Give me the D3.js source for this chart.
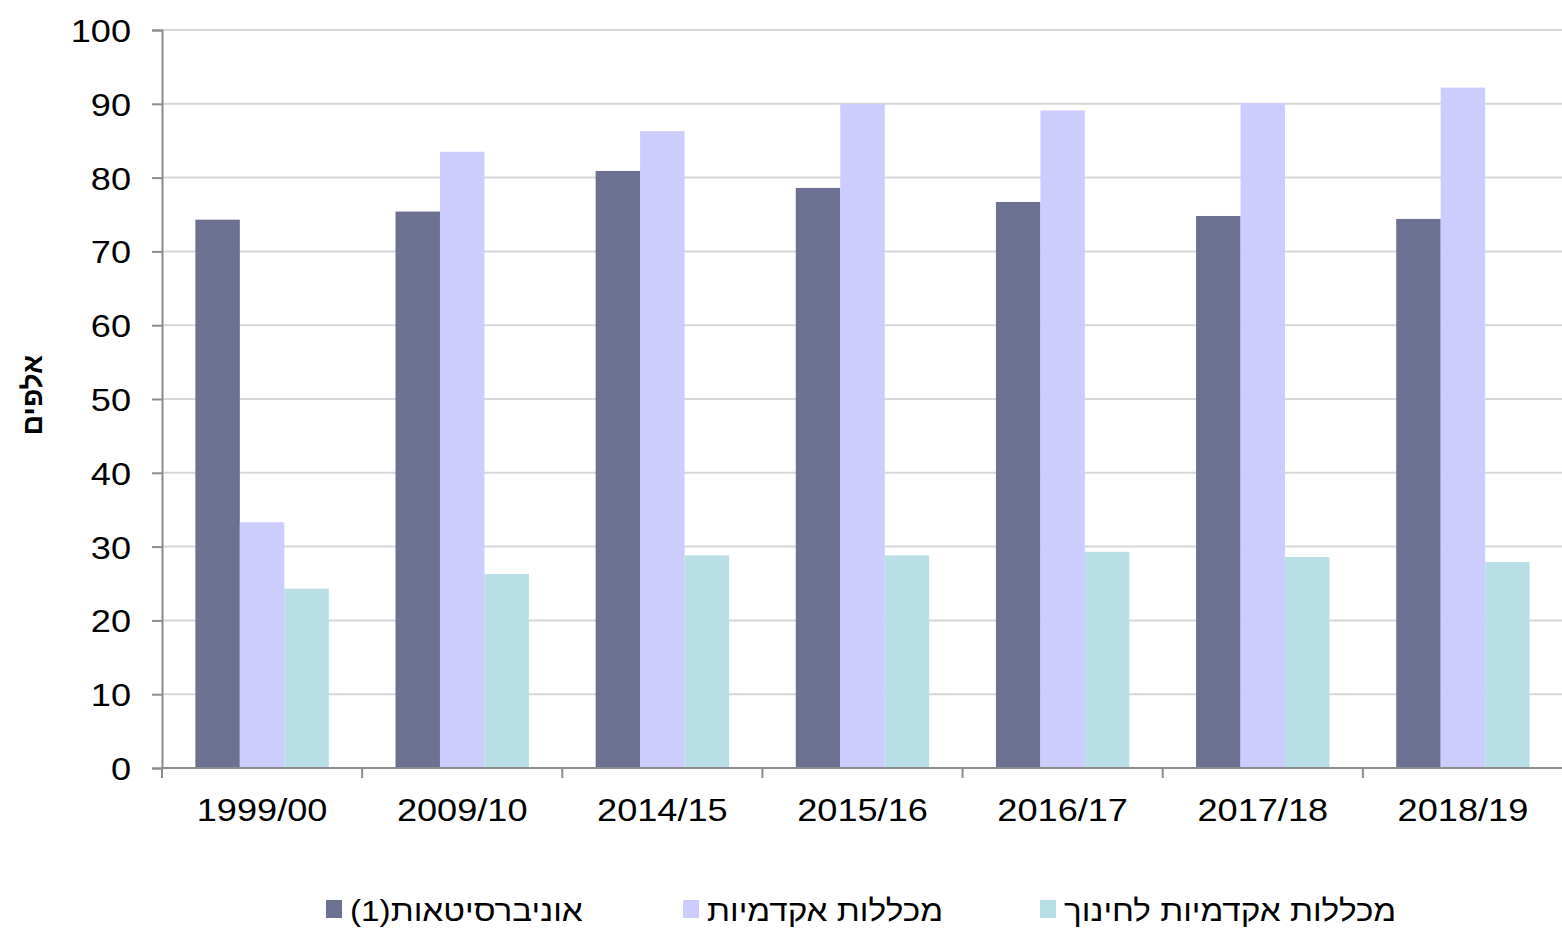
<!DOCTYPE html>
<html>
<head>
<meta charset="utf-8">
<script src="https://cdn.jsdelivr.net/npm/d3@7"></script>
<style>
  body { margin: 0; background: #fff; }
  svg text { font-family: "Liberation Sans", Arial, sans-serif; fill: #000; }
  .y-axis .domain { stroke: #8c8c8c; stroke-width: 2; }
  .y-axis .tick line { stroke: #8c8c8c; stroke-width: 2; }
  .grid line { stroke: #d6d6d6; stroke-width: 2; }
</style>
</head>
<body>
<div id="chart"></div>
<script>
// data (thousands)
var years = ["1999/00", "2009/10", "2014/15", "2015/16", "2016/17", "2017/18", "2018/19"];
var seriesNames = ["אוניברסיטאות(1)", "מכללות אקדמיות", "מכללות אקדמיות לחינוך"];
var universities = [74.3, 75.4, 80.9, 78.6, 76.7, 74.8, 74.4];
var academicColleges = [33.3, 83.5, 86.3, 90.0, 89.1, 90.1, 92.2];
var teacherColleges = [24.3, 26.3, 28.8, 28.8, 29.3, 28.6, 27.9];
var yTicks = [0, 10, 20, 30, 40, 50, 60, 70, 80, 90, 100];
var colors = ["#6c7191", "#ccccff", "#b8dee6"];

var width = 1562, height = 929;
var margin = {top: 30, right: -1, bottom: 161, left: 162};
var innerW = width - margin.left - margin.right;
var innerH = height - margin.top - margin.bottom;
var stretch = 1.13; // the reference text is a little wider than Arial

var values = [universities, academicColleges, teacherColleges];
var rows = years.map(function(y, i) {
  return {year: y, vals: values.map(function(v, s) { return {s: s, v: v[i]}; })};
});

var svg = d3.select("#chart").append("svg")
  .attr("width", width)
  .attr("height", height);

var plot = svg.append("g")
  .attr("transform", "translate(" + margin.left + "," + margin.top + ")");

var x0 = d3.scaleBand().domain(years).range([0, innerW]).paddingInner(0).paddingOuter(0);
var x1 = d3.scaleBand().domain([0, 1, 2]).range([0, x0.bandwidth()]).paddingInner(0).paddingOuter(0.75);
var y = d3.scaleLinear().domain([0, 100]).range([innerH, 0]);

// gridlines
plot.append("g").attr("class", "grid")
  .selectAll("line")
  .data(yTicks.slice(1))
  .enter().append("line")
  .attr("x1", 0)
  .attr("x2", innerW)
  .attr("y1", function(d) { return y(d); })
  .attr("y2", function(d) { return y(d); });

// bars
var groups = plot.selectAll(".grp")
  .data(rows)
  .enter().append("g")
  .attr("class", "grp")
  .attr("transform", function(d) { return "translate(" + x0(d.year) + ",0)"; });

groups.selectAll("rect")
  .data(function(d) { return d.vals; })
  .enter().append("rect")
  .attr("x", function(d) { return x1(d.s); })
  .attr("width", x1.bandwidth())
  .attr("y", function(d) { return y(d.v); })
  .attr("height", function(d) { return innerH - y(d.v); })
  .attr("fill", function(d) { return colors[d.s]; });

// y axis
var yAxis = d3.axisLeft(y).tickValues(yTicks).tickSize(10).tickPadding(20);
plot.append("g").attr("class", "y-axis")
  .call(yAxis)
  .call(function(g) {
    g.selectAll("text")
      .style("font-size", "32px")
      .attr("x", null)
      .attr("dy", "0.36em")
      .attr("transform", "translate(-31,0) scale(" + stretch + ",1)");
  });

// x axis, ticks at band boundaries
var xAxisG = plot.append("g").attr("class", "x-axis")
  .attr("transform", "translate(0," + innerH + ")");
xAxisG.append("line")
  .attr("x1", 0).attr("x2", innerW)
  .attr("y1", 0).attr("y2", 0)
  .style("stroke", "#8c8c8c").style("stroke-width", 2);
xAxisG.selectAll(".xt")
  .data(years)
  .enter().append("line")
  .attr("x1", function(d) { return x0(d); })
  .attr("x2", function(d) { return x0(d); })
  .attr("y1", 0).attr("y2", 10)
  .style("stroke", "#8c8c8c").style("stroke-width", 2);
xAxisG.selectAll(".xl")
  .data(years)
  .enter().append("text")
  .attr("transform", function(d) {
    return "translate(" + (x0(d) + x0.bandwidth() / 2) + ",53) scale(" + stretch + ",1)";
  })
  .attr("text-anchor", "middle")
  .style("font-size", "32px")
  .text(function(d) { return d; });

// y title
svg.append("text")
  .attr("transform", "translate(42,395) rotate(-90)")
  .attr("text-anchor", "middle")
  .attr("direction", "rtl")
  .style("font-size", "28px")
  .style("font-weight", "bold")
  .text("אלפים");

// legend
var legendX = [326, 683, 1040];
var legend = svg.append("g").attr("class", "legend");
seriesNames.forEach(function(name, i) {
  legend.append("rect")
    .attr("x", legendX[i])
    .attr("y", 900)
    .attr("width", 16)
    .attr("height", 18)
    .attr("fill", colors[i]);
  legend.append("text")
    .attr("transform", "translate(" + (legendX[i] + 24) + ",921) scale(1.11,1)")
    .attr("direction", "rtl")
    .attr("text-anchor", "end")
    .style("font-size", "30px")
    .text(name);
});
</script>
</body>
</html>
